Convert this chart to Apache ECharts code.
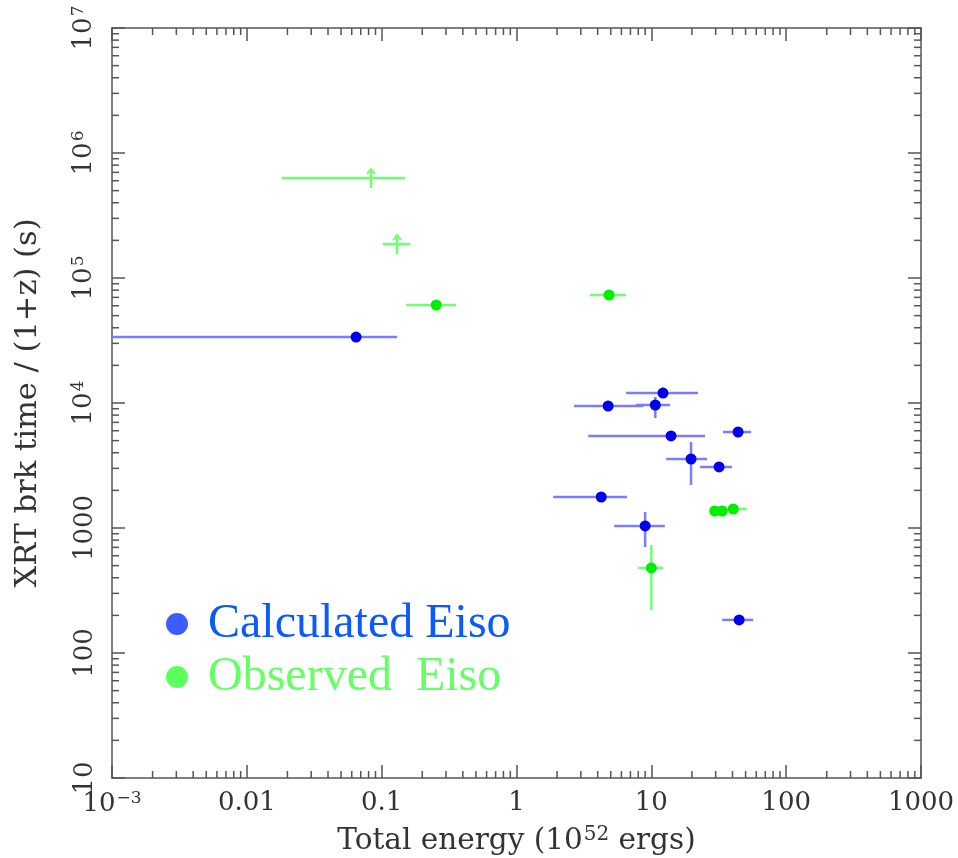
<!DOCTYPE html>
<html><head><meta charset="utf-8">
<script src="https://cdn.jsdelivr.net/npm/echarts@6/dist/echarts.min.js"></script>
<style>html,body{margin:0;padding:0;background:#fff}#c{width:958px;height:858px}</style>
</head><body><div id="c"></div>
<script>
// Tick labels (decades)
const xTickLabels = ['10^−3', '0.01', '0.1', '1', '10', '100', '1000'];
const yTickLabels = ['10', '100', '1000', '10^4', '10^5', '10^6', '10^7'];

// Calculated Eiso (blue)
const calcX   = [0.0646, 4.78, 10.7, 12.2, 14.0, 44.0, 19.7, 31.8, 4.25, 9.0, 44.8];
const calcY   = [33700, 9460, 9640, 12000, 5450, 5860, 3565, 3077, 1770, 1038, 184];
const calcXLo = [0.0005, 2.67, 7.7, 6.5, 3.4, 34, 12.9, 23, 1.87, 5.3, 33.5];
const calcXHi = [0.13, 8.7, 13.8, 22.2, 25, 55, 25.9, 39.7, 6.6, 12.6, 56.9];
const calcYLo = [33700, 8900, 7590, 11000, 5450, 5860, 2210, 3077, 1770, 705, 184];
const calcYHi = [33700, 10100, 11170, 13300, 5450, 5860, 4875, 3077, 1770, 1343, 184];

// Observed Eiso (green)
const obsX     = [0.0834, 0.130, 0.254, 4.86, 10.0, 29.5, 33.5, 40.5];
const obsY     = [631000, 187000, 60800, 73100, 479, 1368, 1368, 1419];
const obsXLo   = [0.0182, 0.102, 0.152, 3.5, 8.0, 27.5, 30.5, 35];
const obsXHi   = [0.149, 0.163, 0.356, 6.5, 12.2, 31.5, 37, 51];
const obsYLo   = [631000, 187000, 60800, 70000, 221, 1368, 1368, 1419];
const obsYHi   = [631000, 187000, 60800, 76000, 731, 1368, 1368, 1419];
const obsLimit = [true, true, false, false, false, false, false, false];

const BLUE_DOT = '#0000ee', BLUE_ERR = '#7c7cff';
const GREEN_DOT = '#00ee00', GREEN_ERR = '#70ff70';
const AXIS_COL = '#555';
const FONT = 'DejaVu Serif';

function richLabel(s) {
  const i = s.indexOf('^');
  if (i < 0) return '{b|' + s + '}';
  return '{b|' + s.slice(0, i) + '}{s|' + s.slice(i + 1) + '}';
}
const richStyle = {
  b: { fontFamily: FONT, fontSize: 26, color: '#333' },
  s: { fontFamily: FONT, fontSize: 17, color: '#333', verticalAlign: 'top', padding: [0, 0, 11, 1] }
};

const calcData = calcX.map((x, i) => [x, calcY[i], calcXLo[i], calcXHi[i], calcYLo[i], calcYHi[i], 0]);
const obsData = obsX.map((x, i) => [x, obsY[i], obsXLo[i], obsXHi[i], obsYLo[i], obsYHi[i], obsLimit[i] ? 1 : 0]);

function errRender(color) {
  return function (params, api) {
    const x = api.value(0), y = api.value(1);
    const xl = api.value(2), xh = api.value(3), yl = api.value(4), yh = api.value(5);
    const lim = api.value(6);
    const c = api.coord([x, y]);
    const a = api.coord([xl, y]), b = api.coord([xh, y]);
    const st = { stroke: color, lineWidth: 2.5 };
    const ch = [{ type: 'line', shape: { x1: a[0], y1: a[1], x2: b[0], y2: b[1] }, style: st }];
    if (lim) {
      ch.push({ type: 'line', shape: { x1: c[0], y1: c[1] + 10, x2: c[0], y2: c[1] - 9 }, style: st });
      ch.push({ type: 'polyline', shape: { points: [[c[0] - 4, c[1] - 4], [c[0], c[1] - 9], [c[0] + 4, c[1] - 4]] }, style: { stroke: color, lineWidth: 2, fill: null } });
    } else if (yl !== yh) {
      const p = api.coord([x, yl]), q = api.coord([x, yh]);
      ch.push({ type: 'line', shape: { x1: p[0], y1: p[1], x2: q[0], y2: q[1] }, style: st });
    }
    return { type: 'group', children: ch };
  };
}

// minor tick values (2..9 x 10^n)
const xMinor = [], yMinor = [];
for (let e = -3; e < 3; e++) for (let k = 2; k <= 9; k++) xMinor.push([k * Math.pow(10, e), 10]);
for (let e = 1; e < 7; e++) for (let k = 2; k <= 9; k++) yMinor.push([0.001, k * Math.pow(10, e)]);

const X_MIN = 0.001, X_MAX = 1000, Y_MIN = 10, Y_MAX = 1e7;

function minorRender(isX) {
  return function (params, api) {
    const st = { stroke: AXIS_COL, lineWidth: 1.5 };
    const L = 7;
    if (isX) {
      const v = api.value(0);
      const p = api.coord([v, Y_MIN]), q = api.coord([v, Y_MAX]);
      return { type: 'group', children: [
        { type: 'line', shape: { x1: p[0], y1: p[1], x2: p[0], y2: p[1] - L }, style: st },
        { type: 'line', shape: { x1: q[0], y1: q[1], x2: q[0], y2: q[1] + L }, style: st }
      ] };
    } else {
      const v = api.value(1);
      const p = api.coord([X_MIN, v]), q = api.coord([X_MAX, v]);
      return { type: 'group', children: [
        { type: 'line', shape: { x1: p[0], y1: p[1], x2: p[0] + L, y2: p[1] }, style: st },
        { type: 'line', shape: { x1: q[0], y1: q[1], x2: q[0] - L, y2: q[1] }, style: st }
      ] };
    }
  };
}

const axisCommon = {
  type: 'log', logBase: 10, splitNumber: 6,
  axisLine: { show: true, lineStyle: { color: AXIS_COL, width: 1.5 } },
  axisTick: { show: true, inside: true, length: 13, lineStyle: { color: AXIS_COL, width: 1.5 } },
  splitLine: { show: false }, minorTick: { show: false }
};

const chart = echarts.init(document.getElementById('c'), null, { renderer: 'canvas' });
chart.setOption({
  animation: false,
  backgroundColor: '#fff',
  grid: { left: 112, right: 37, top: 28, bottom: 80, containLabel: false, outerBoundsMode: 'none' },
  xAxis: [
    Object.assign({}, axisCommon, {
      min: X_MIN, max: X_MAX, position: 'bottom',
      axisLabel: {
        margin: 12,
        formatter: v => richLabel(xTickLabels[Math.round(Math.log10(v)) + 3]),
        rich: richStyle
      },
      name: '{t|Total energy (10}{s|52}{t| ergs)}', nameLocation: 'middle', nameGap: 47,
      nameTextStyle: { rich: {
        t: { fontFamily: FONT, fontSize: 29.5, color: '#333' },
        s: { fontFamily: FONT, fontSize: 20, color: '#333', verticalAlign: 'top', padding: [0, 0, 12, 1] }
      } }
    }),
    Object.assign({}, axisCommon, { min: X_MIN, max: X_MAX, position: 'top', axisLabel: { show: false } })
  ],
  yAxis: [
    Object.assign({}, axisCommon, {
      min: Y_MIN, max: Y_MAX, position: 'left',
      axisLabel: {
        rotate: 90, margin: 14,
        formatter: v => richLabel(yTickLabels[Math.round(Math.log10(v)) - 1]),
        rich: richStyle
      },
      name: 'XRT brk time / (1+z) (s)', nameLocation: 'middle', nameGap: 68, nameRotate: 90,
      nameTextStyle: { fontFamily: FONT, fontSize: 30.5, color: '#333' }
    }),
    Object.assign({}, axisCommon, { min: Y_MIN, max: Y_MAX, position: 'right', axisLabel: { show: false } })
  ],
  legend: {
    orient: 'vertical', left: 166, top: 600, padding: 0, itemWidth: 22, itemHeight: 22, itemGap: 5,
    icon: 'circle', selectedMode: false,
    textStyle: { fontFamily: 'Liberation Serif', fontSize: 48, padding: [0, 0, 0, 15] },
    data: [
      { name: 'Calculated Eiso', itemStyle: { color: '#3b5cff' }, textStyle: { color: '#0a5aff' } },
      { name: 'Observed  Eiso', itemStyle: { color: '#5dff5d' }, textStyle: { color: '#66ff66' } }
    ]
  },
  series: [
    { type: 'custom', name: 'xminor', silent: true, renderItem: minorRender(true), data: xMinor, encode: { x: 0, y: 1 } },
    { type: 'custom', name: 'yminor', silent: true, renderItem: minorRender(false), data: yMinor, encode: { x: 0, y: 1 } },
    { type: 'custom', name: 'calcErr', silent: true, clip: true, renderItem: errRender(BLUE_ERR), data: calcData, encode: { x: 0, y: 1 } },
    { type: 'custom', name: 'obsErr', silent: true, clip: true, renderItem: errRender(GREEN_ERR), data: obsData, encode: { x: 0, y: 1 } },
    { type: 'scatter', name: 'Calculated Eiso', symbolSize: 11, itemStyle: { color: BLUE_DOT, opacity: 1 },
      data: calcX.map((x, i) => [x, calcY[i]]) },
    { type: 'scatter', name: 'Observed  Eiso', symbolSize: 11, itemStyle: { color: GREEN_DOT, opacity: 1 },
      data: obsX.map((x, i) => [x, obsY[i]]).filter((d, i) => !obsLimit[i]) }
  ]
});
</script></body></html>
